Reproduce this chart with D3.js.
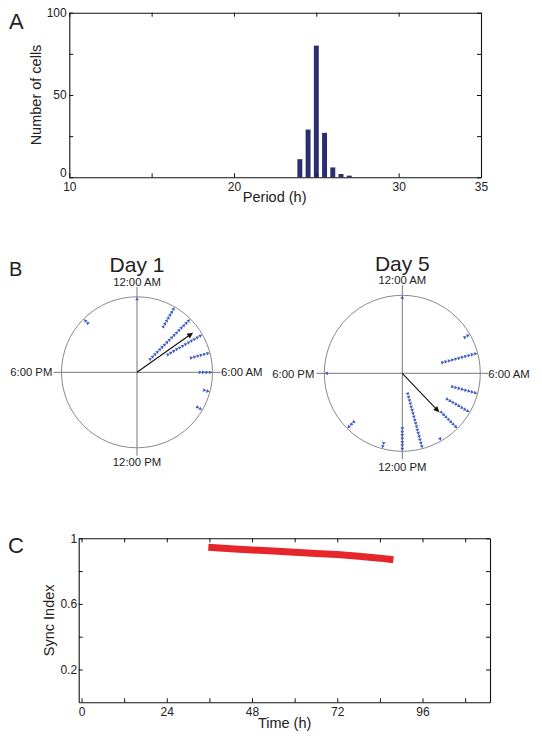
<!DOCTYPE html>
<html>
<head>
<meta charset="utf-8">
<script src="https://cdn.jsdelivr.net/npm/d3@7"></script>
<style>
  html, body { margin: 0; padding: 0; background: #fff; }
  svg { display: block; font-family: "Liberation Sans", Arial, sans-serif; }
  text { fill: #222; }
</style>
</head>
<body>
<svg id="chart" width="542" height="740"></svg>
<script>
// ---------- DATA ----------
// Panel A: period histogram
const periods = [24, 24.5, 25, 25.5, 26, 26.5, 27];
const cellCounts = [11, 29, 80, 27, 6, 2, 1];
const periodTicks = [10, 15, 20, 25, 30, 35];
const periodTickLabels = ["10", "", "20", "", "30", "35"];
const countTicks = [0, 25, 50, 75, 100];
const countTickLabels = ["0", "", "50", "", "100"];

// Panel B: phase distributions (hour of day bins, number of cells)
const day1Hours = [0, 2, 3, 4, 5, 6, 7, 8, 21];
const day1Counts = [1, 7, 17, 12, 6, 4, 2, 2, 2];
const day1MeanHour = 3.65;
const day1MeanLength = 0.91;

const day5Hours = [0, 4, 5, 7, 8, 9, 10, 11, 12, 13, 15, 18];
const day5Counts = [1, 2, 11, 8, 8, 7, 1, 17, 7, 2, 3, 1];
const day5MeanHour = 9.1;
const day5MeanLength = 0.69;

const clockLabels = ["12:00 AM", "6:00 AM", "12:00 PM", "6:00 PM"];
const clockLabelHours = [0, 6, 12, 18];

// Panel C: synchronization index over time
const syncTime = [35.7, 42, 48, 54, 60, 66, 72, 78, 84, 87.8];
const syncIndex = [0.945, 0.937, 0.929, 0.922, 0.915, 0.908, 0.901, 0.891, 0.879, 0.869];
const timeTicks = [0, 12, 24, 36, 48, 60, 72, 84, 96, 108];
const timeTickLabels = ["0", "", "24", "", "48", "", "72", "", "96", ""];
const syncTicks = [0.2, 0.4, 0.6, 0.8, 1.0];
const syncTickLabels = ["0.2", "", "0.6", "", "1"];

// ---------- DRAW ----------
const svg = d3.select("#chart");
const FONT_TICK = 12;
const FONT_TITLE = 14.5;

function boxAxes(g, x, y, xt, xl, yt, yl, xpad, ypad) {
  const [x0, x1] = x.range();
  const [y0, y1] = y.range(); // y0 bottom, y1 top
  g.append("g").attr("transform", `translate(0,${y0})`)
    .call(d3.axisBottom(x).tickValues(xt).tickSize(-4).tickSizeOuter(0).tickPadding(xpad)
      .tickFormat((d, i) => xl[i]));
  g.append("g").attr("transform", `translate(0,${y1})`)
    .call(d3.axisTop(x).tickValues(xt).tickSize(-4).tickSizeOuter(0).tickFormat(""));
  const left = g.append("g").attr("class", "yleft").attr("transform", `translate(${x0},0)`)
    .call(d3.axisLeft(y).tickValues(yt).tickSize(-4).tickSizeOuter(0).tickPadding(ypad)
      .tickFormat((d, i) => yl[i]));
  g.append("g").attr("transform", `translate(${x1},0)`)
    .call(d3.axisRight(y).tickValues(yt).tickSize(-4).tickSizeOuter(0).tickFormat(""));
  g.selectAll(".domain").attr("stroke", "#111").attr("stroke-width", 1.1);
  g.selectAll(".tick line").attr("stroke", "#111");
  g.selectAll(".tick text").attr("font-size", FONT_TICK).attr("fill", "#222")
    .attr("font-family", '"Liberation Sans", Arial, sans-serif');
  return left;
}

// ----- Panel A -----
const xA = d3.scaleLinear().domain([10, 35]).range([69.3, 481]);
const yA = d3.scaleLinear().domain([0, 100]).range([177.3, 12.7]);
const gA = svg.append("g");
const barW = xA(10.3) - xA(10);
gA.selectAll("rect.bar").data(periods).join("rect")
  .attr("class", "bar")
  .attr("x", d => xA(d) - barW / 2)
  .attr("width", barW)
  .attr("y", (d, i) => yA(cellCounts[i]))
  .attr("height", (d, i) => yA(0) - yA(cellCounts[i]))
  .attr("fill", "#2a2d6e");
const leftA = boxAxes(gA, xA, yA, periodTicks, periodTickLabels, countTicks, countTickLabels, 4.8, 2.6);
// lift the "0" label slightly so it sits just above the "10" label, as in the reference
leftA.selectAll(".tick text").filter(d => d === 0).attr("dy", "-0.05em");
gA.append("text").attr("x", (xA(10) + xA(35)) / 2 - 0.5).attr("y", 202)
  .attr("text-anchor", "middle").attr("font-size", FONT_TITLE).text("Period (h)");
gA.append("text").attr("transform", `translate(41,${(yA(0) + yA(100)) / 2}) rotate(-90)`)
  .attr("text-anchor", "middle").attr("font-size", FONT_TITLE).text("Number of cells");
svg.append("text").attr("x", 9).attr("y", 28.5).attr("font-size", 22).text("A");

// ----- Panel B -----
svg.append("text").attr("x", 9).attr("y", 276).attr("font-size", 20).text("B");

function polar(cx, cy, R, title, hours, counts, meanHour, meanLen, lbl) {
  const g = svg.append("g").attr("transform", `translate(${cx},${cy})`);
  const ang = d3.scaleLinear().domain([0, 24]).range([0, 2 * Math.PI]);
  const rad = d3.scaleLinear().domain([0, 1]).range([0, R]);
  const px = (h, r) => r * Math.sin(ang(h));
  const py = (h, r) => -r * Math.cos(ang(h));
  const ext = 8;
  g.append("line").attr("x1", -R - ext).attr("x2", R + ext).attr("y1", 0).attr("y2", 0)
    .attr("stroke", "#777").attr("stroke-width", 1);
  g.append("line").attr("y1", -R - ext - 2).attr("y2", R + ext).attr("x1", 0).attr("x2", 0)
    .attr("stroke", "#777").attr("stroke-width", 1);
  g.append("circle").attr("r", R).attr("fill", "none").attr("stroke", "#8a8a8a").attr("stroke-width", 1);

  // stacked markers
  const spacing = 3.4;
  const pts = [];
  hours.forEach((h, i) => {
    for (let k = 0; k < counts[i]; k++) pts.push({ h, r: R - 2.5 - k * spacing });
  });
  const tri = d3.symbol(d3.symbolTriangle).size(6);
  g.selectAll("path.m").data(pts).join("path").attr("class", "m")
    .attr("d", tri)
    .attr("transform", d => `translate(${px(d.h, d.r)},${py(d.h, d.r)}) rotate(${ang(d.h) * 180 / Math.PI})`)
    .attr("fill", "#3d5cc0");

  // mean vector arrow
  const L = rad(meanLen);
  const ex = px(meanHour, L), ey = py(meanHour, L);
  const hl = 6;
  g.append("line").attr("x1", 0).attr("y1", 0)
    .attr("x2", px(meanHour, L - hl + 1)).attr("y2", py(meanHour, L - hl + 1))
    .attr("stroke", "#111").attr("stroke-width", 1.1);
  const a = ang(meanHour);
  const ux = Math.sin(a), uy = -Math.cos(a);
  const bx = ex - ux * hl, by = ey - uy * hl;
  g.append("path")
    .attr("d", `M${ex},${ey}L${bx - uy * 2.8},${by + ux * 2.8}L${bx + uy * 2.8},${by - ux * 2.8}Z`)
    .attr("fill", "#111");

  // labels
  const fs = 11.3;
  g.append("text").attr("x", 0).attr("y", lbl.top).attr("text-anchor", "middle").attr("font-size", fs).text(clockLabels[0]);
  g.append("text").attr("x", lbl.right).attr("y", lbl.mid).attr("text-anchor", "start").attr("font-size", fs).text(clockLabels[1]);
  g.append("text").attr("x", 0).attr("y", lbl.bottom).attr("text-anchor", "middle").attr("font-size", fs).text(clockLabels[2]);
  g.append("text").attr("x", lbl.left).attr("y", lbl.mid).attr("text-anchor", "end").attr("font-size", fs).text(clockLabels[3]);
  g.append("text").attr("x", 0).attr("y", lbl.title).attr("text-anchor", "middle").attr("font-size", 21).text(title);
}

polar(137, 372.3, 75.5, "Day 1", day1Hours, day1Counts, day1MeanHour, day1MeanLength,
  { top: 285.7 - 372.3, bottom: 466 - 372.3, left: 52.3 - 137, right: 221 - 137, mid: 376 - 372.3, title: 271.7 - 372.3 });
polar(402.3, 373.3, 78, "Day 5", day5Hours, day5Counts, day5MeanHour, day5MeanLength,
  { top: 284 - 373.3, bottom: 471.5 - 373.3, left: 314.3 - 402.3, right: 488.3 - 402.3, mid: 377.7 - 373.3, title: 270.7 - 373.3 });

// ----- Panel C -----
const xC = d3.scaleLinear().domain([-0.8, 115]).range([78.7, 490]);
const yC = d3.scaleLinear().domain([0, 1]).range([702.3, 538.3]);
const gC = svg.append("g");
boxAxes(gC, xC, yC, timeTicks, timeTickLabels, syncTicks, syncTickLabels, 5, 1.6);
const line = d3.line().x((d, i) => xC(syncTime[i])).y((d, i) => yC(syncIndex[i]));
gC.append("path").datum(syncIndex).attr("d", line)
  .attr("fill", "none").attr("stroke", "#e5262b").attr("stroke-width", 7).attr("stroke-linejoin", "round");
gC.append("text").attr("x", 284.6).attr("y", 727.5).attr("text-anchor", "middle").attr("font-size", FONT_TITLE).text("Time (h)");
gC.append("text").attr("transform", `translate(54,${(yC(0) + yC(1)) / 2}) rotate(-90)`)
  .attr("text-anchor", "middle").attr("font-size", FONT_TITLE).text("Sync Index");
svg.append("text").attr("x", 8).attr("y", 553).attr("font-size", 22).text("C");
</script>
</body>
</html>
